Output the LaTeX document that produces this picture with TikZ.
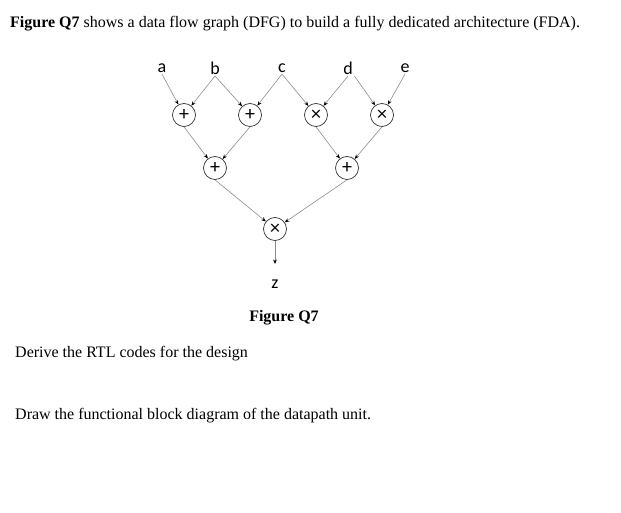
\documentclass[tikz,border=0pt]{standalone}
\usepackage{fontspec}
\setmainfont{Liberation Serif}
\newfontfamily\lblfont{Carlito}
\usetikzlibrary{arrows.meta}
\begin{document}
\begin{tikzpicture}[x=1pt,y=-1pt,
    op/.style={draw=black!80,line width=0.7pt,circle,minimum size=23pt,inner sep=0pt,font=\lblfont\fontsize{20}{20}\selectfont},
    var/.style={inner sep=1.5pt,font=\lblfont\fontsize{18}{18}\selectfont},
    flow/.style={draw=black!45,line width=0.6pt,-{Stealth[length=4.5pt,width=3.6pt,color=black]}},
    txt/.style={anchor=base west,inner sep=0pt,font=\fontsize{16}{19}\selectfont}]
    \useasboundingbox (0,0) rectangle (621,513);
    % texts
    \node [txt] (head) at (10,28) {\textbf{Figure Q7} shows a data flow graph (DFG) to build a fully dedicated architecture (FDA).};
    \node [txt,anchor=base] (cap) at (284,321) {\textbf{Figure Q7}};
    \node [txt] (q1) at (15,357) {Derive the RTL codes for the design};
    \node [txt] (q2) at (15,419) {Draw the functional block diagram of the datapath unit.};
    % inputs
    \node [var] (a) at (162,68) {a};
    \node [var] (b) at (215,68) {b};
    \node [var] (c) at (282,68) {c};
    \node [var] (d) at (348,68) {d};
    \node [var] (e) at (405,68) {e};
    % operators
    \node [op] (add1) at (184,115) {+};
    \node [op] (add2) at (250,115) {+};
    \node [op] (mul1) at (316,115) {×};
    \node [op] (mul2) at (382,115) {×};
    \node [op] (add3) at (215,168) {+};
    \node [op] (add4) at (347,168) {+};
    \node [op] (mul3) at (275,229) {×};
    \coordinate (out) at (275,264);
    \node [var] (z) at (275,284) {z};
    % edges
    \draw [flow] (a.south) -- (add1);
    \draw [flow] (b.south) -- (add1);
    \draw [flow] (b.south) -- (add2);
    \draw [flow] (c.south) -- (add2);
    \draw [flow] (c.south) -- (mul1);
    \draw [flow] (d.south) -- (mul1);
    \draw [flow] (d.south east) -- (mul2);
    \draw [flow] (e.south) -- (mul2);
    \draw [flow] (add1.south) -- (add3);
    \draw [flow] (add2.south) -- (add3);
    \draw [flow] (mul1.south) -- (add4);
    \draw [flow] (mul2.south) -- (add4);
    \draw [flow] (add3.south) -- (mul3);
    \draw [flow] (add4.south) -- (mul3);
    \draw [flow] (mul3.south) -- (out);
\end{tikzpicture}
\end{document}
